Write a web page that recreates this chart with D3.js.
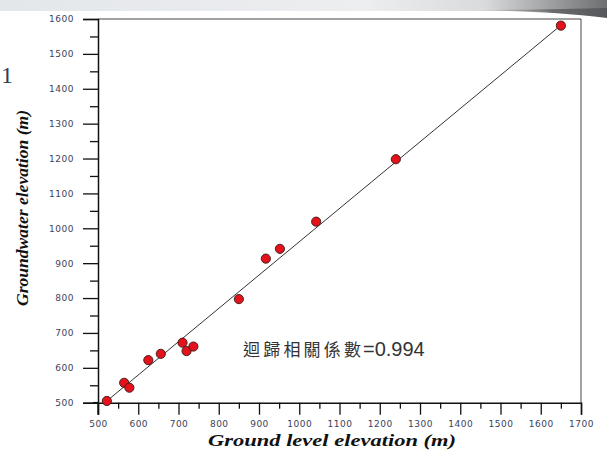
<!DOCTYPE html>
<html><head><meta charset="utf-8">
<script src="https://cdn.jsdelivr.net/npm/d3@7"></script>
<style>
html,body{margin:0;padding:0;background:#fff;}
svg{display:block;}
</style></head>
<body>
<svg id="chart" width="607" height="450"></svg>
<script>
// ---- data ----
const groundLevel = [522, 565, 578, 625, 656, 710, 720, 737, 850, 917, 952, 1042, 1240, 1650];
const groundwater = [505, 557, 543, 622, 640, 672, 648, 661, 797, 913, 941, 1019, 1198, 1581];
const fitX = [520, 1650];
const fitY = [503, 1582];
const xTicks = [500, 600, 700, 800, 900, 1000, 1100, 1200, 1300, 1400, 1500, 1600, 1700];
const yTicks = [500, 600, 700, 800, 900, 1000, 1100, 1200, 1300, 1400, 1500, 1600];
const xMinor = [550, 650, 750, 850, 950, 1050, 1150, 1250, 1350, 1450, 1550, 1650];
const yMinor = [550, 650, 750, 850, 950, 1050, 1150, 1250, 1350, 1450, 1550];
const xTitle = "Ground level elevation (m)";
const yTitle = "Groundwater elevation (m)";
const annotationLabel = "迴歸相關係數";
const annotationValue = "=0.994";

const svg = d3.select("#chart");
const L = 98, R = 581, T = 19, B = 402.7;
const x = d3.scaleLinear().domain([500, 1700]).range([L, R]);
const y = d3.scaleLinear().domain([500, 1600]).range([B, T]);

// slide background band at top
const defs = svg.append("defs");
const g1 = defs.append("linearGradient").attr("id", "band").attr("x1", 0).attr("x2", 1).attr("y1", 0).attr("y2", 0);
g1.append("stop").attr("offset", 0).attr("stop-color", "#e4e7ea");
g1.append("stop").attr("offset", 0.6).attr("stop-color", "#eceef0");
g1.append("stop").attr("offset", 0.8).attr("stop-color", "#d9dadb");
g1.append("stop").attr("offset", 1).attr("stop-color", "#6d6e70");
svg.append("rect").attr("x", 0).attr("y", 0).attr("width", 607).attr("height", 11).attr("fill", "url(#band)");
const g2 = defs.append("linearGradient").attr("id", "swoosh").attr("x1", 0).attr("x2", 1).attr("y1", 0).attr("y2", 0);
g2.append("stop").attr("offset", 0).attr("stop-color", "#b9babc").attr("stop-opacity", 0.2);
g2.append("stop").attr("offset", 0.6).attr("stop-color", "#6a6b6d");
g2.append("stop").attr("offset", 1).attr("stop-color", "#55575a");
svg.append("path").attr("d", "M470,10 C520,11 560,12 607,18 L607,8 C570,9 520,10 470,10 Z").attr("fill", "url(#swoosh)");
svg.append("text").attr("x", 13).attr("y", 83).attr("text-anchor", "end")
  .attr("font-family", "Liberation Serif, serif").attr("font-size", 24).attr("fill", "#2d3d5a").text("圖1");

// frame top/right
svg.append("line").attr("x1", L).attr("x2", R).attr("y1", T).attr("y2", T).attr("stroke", "#444").attr("stroke-width", 1);
svg.append("line").attr("x1", R).attr("x2", R).attr("y1", T).attr("y2", B).attr("stroke", "#444").attr("stroke-width", 1);

const tickFont = "DejaVu Sans, Verdana, sans-serif";
// y axis major
const yAx = svg.append("g").attr("transform", `translate(${L},0)`)
  .call(d3.axisLeft(y).tickValues(yTicks).tickSize(15).tickPadding(9).tickFormat(d3.format("d")));
yAx.select(".domain").attr("stroke", "#111").attr("stroke-width", 1.5);
yAx.selectAll(".tick line").attr("stroke", "#111").attr("stroke-width", 1.3);
yAx.selectAll(".tick text").attr("font-family", tickFont).attr("font-size", 9).attr("letter-spacing", 0.5).attr("fill", "#3a3f5c");
// y minor
const yMi = svg.append("g").attr("transform", `translate(${L},0)`)
  .call(d3.axisLeft(y).tickValues(yMinor).tickSize(8).tickFormat(""));
yMi.select(".domain").remove();
yMi.selectAll(".tick line").attr("stroke", "#111").attr("stroke-width", 1.3);

// x axis major
const xAx = svg.append("g").attr("transform", `translate(0,${B})`)
  .call(d3.axisBottom(x).tickValues(xTicks).tickSize(12).tickPadding(6).tickFormat(d3.format("d")));
xAx.select(".domain").attr("stroke", "#111").attr("stroke-width", 1.5);
xAx.selectAll(".tick line").attr("stroke", "#111").attr("stroke-width", 1.3);
xAx.selectAll(".tick text").attr("font-family", tickFont).attr("font-size", 9).attr("letter-spacing", 0.5).attr("fill", "#3a3f5c");
const xMi = svg.append("g").attr("transform", `translate(0,${B})`)
  .call(d3.axisBottom(x).tickValues(xMinor).tickSize(6).tickFormat(""));
xMi.select(".domain").remove();
xMi.selectAll(".tick line").attr("stroke", "#111").attr("stroke-width", 1.3);
// extend axis lines past origin like reference
svg.append("line").attr("x1", L - 5).attr("x2", L).attr("y1", B).attr("y2", B).attr("stroke", "#111").attr("stroke-width", 1.5);
svg.append("line").attr("x1", L).attr("x2", L).attr("y1", B).attr("y2", B + 12).attr("stroke", "#111").attr("stroke-width", 1.3);

// regression line
svg.append("line")
  .attr("x1", x(fitX[0])).attr("y1", y(fitY[0]))
  .attr("x2", x(fitX[1])).attr("y2", y(fitY[1]))
  .attr("stroke", "#333").attr("stroke-width", 1);

// points
svg.append("g").selectAll("circle").data(groundLevel.map((d, i) => [d, groundwater[i]]))
  .join("circle")
  .attr("cx", d => x(d[0])).attr("cy", d => y(d[1])).attr("r", 4.6)
  .attr("fill", "#e3121b").attr("stroke", "#3a1a1a").attr("stroke-width", 0.9);

// annotation
const ann = svg.append("text").attr("x", 243).attr("y", 356).attr("fill", "#333");
ann.append("tspan").attr("font-family", "Noto Sans CJK TC, Noto Sans, sans-serif").attr("font-size", 17)
  .attr("textLength", 118).attr("lengthAdjust", "spacing").text(annotationLabel);
ann.append("tspan").attr("x", 363).attr("font-family", "Liberation Sans, Arial, sans-serif").attr("font-size", 20)
  .text(annotationValue);

// axis titles
svg.append("text").attr("x", 208).attr("y", 446)
  .attr("font-family", "Liberation Serif, Times New Roman, serif").attr("font-weight", "bold").attr("font-style", "italic")
  .attr("font-size", 17).attr("fill", "#111").attr("textLength", 248).attr("lengthAdjust", "spacingAndGlyphs")
  .text(xTitle);
svg.append("text").attr("transform", "translate(28,306) rotate(-90)")
  .attr("font-family", "Liberation Serif, Times New Roman, serif").attr("font-weight", "bold").attr("font-style", "italic")
  .attr("font-size", 16).attr("fill", "#111").attr("textLength", 196).attr("lengthAdjust", "spacingAndGlyphs")
  .text(yTitle);
</script>
</body></html>
